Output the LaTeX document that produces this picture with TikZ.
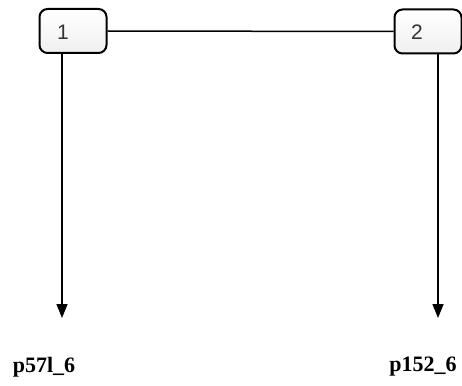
\documentclass[tikz,border=0pt]{standalone}
\usepackage{fontspec}
\setmainfont{Liberation Serif}
\newfontfamily\boxfont{Liberation Sans}
\usetikzlibrary{arrows.meta,shadings,shadows}
\begin{document}
\begin{tikzpicture}[x=1pt,y=-1pt,
  boxnode/.style={draw=black,line width=2pt,rounded corners=8pt,minimum width=67pt,minimum height=44pt,
    top color=white,bottom color=black!6,inner sep=0pt},
  boxlabel/.style={font=\boxfont\fontsize{21}{21}\selectfont,text=black!80,inner sep=0pt},
  endlabel/.style={font=\bfseries\fontsize{22}{22}\selectfont,inner sep=0pt},
  conn/.style={line width=1.5pt},
  arr/.style={conn,-{Triangle[length=14pt,width=11pt]}}]
\useasboundingbox (0,0) rectangle (462,385);
\node[boxnode] (b1) at (73,31) {};
\node[boxnode] (b2) at (428,31.5) {};
\node[boxlabel] (t1) at (63,32) {1};
\node[boxlabel] (t2) at (417,32) {2};
\coordinate (e1) at (62,318);
\coordinate (e2) at (438,318);
\node[endlabel] (l1) at (44,367) {p57l\_6};
\node[endlabel] (l2) at (423,367) {p152\_6};
\draw[conn] (b1.east) -- (b2.west);
\draw[arr] (b1.south -| e1) -- (e1);
\draw[arr] (b2.south -| e2) -- (e2);
\end{tikzpicture}
\end{document}
